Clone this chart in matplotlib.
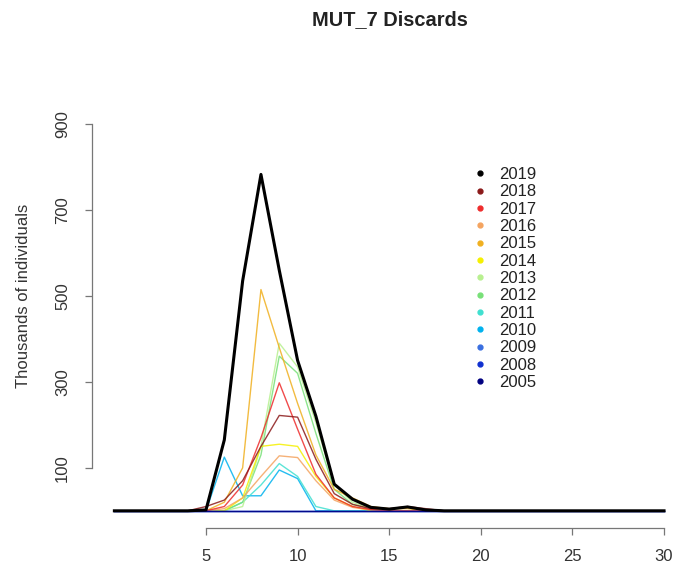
import matplotlib
matplotlib.use("Agg")
import matplotlib.pyplot as plt
from matplotlib.lines import Line2D

plt.rcParams['font.family'] = ['Liberation Sans', 'DejaVu Sans']

# length classes and discards (thousands of individuals) per year
lengths = list(range(31))
years = ['2019', '2018', '2017', '2016', '2015', '2014', '2013',
         '2012', '2011', '2010', '2009', '2008', '2005']
colours = ['#000000', '#8B1A1A', '#EE2C2C', '#F4A460', '#F0B020', '#F5F000',
           '#B8F090', '#78E078', '#40E0D0', '#00B2EE', '#3A6FE0', '#1030D0', '#000080']

d2019 = [0, 0, 0, 0, 0, 2, 165, 535, 783, 560, 350, 220, 62, 27, 8, 4, 9, 2, 0, 0, 0, 0, 0, 0, 0, 0, 0, 0, 0, 0, 0]
d2018 = [0, 0, 0, 0, 0, 10, 25, 70, 150, 222, 218, 120, 40, 15, 5, 5, 10, 5, 0, 0, 0, 0, 0, 0, 0, 0, 0, 0, 0, 0, 0]
d2017 = [0, 0, 0, 0, 0, 0, 10, 60, 170, 298, 190, 85, 30, 10, 3, 0, 0, 0, 0, 0, 0, 0, 0, 0, 0, 0, 0, 0, 0, 0, 0]
d2016 = [0, 0, 0, 0, 0, 0, 5, 30, 80, 128, 124, 70, 25, 8, 2, 0, 0, 0, 0, 0, 0, 0, 0, 0, 0, 0, 0, 0, 0, 0, 0]
d2015 = [0, 0, 0, 0, 0, 0, 20, 100, 515, 380, 250, 130, 50, 30, 10, 5, 5, 0, 0, 0, 0, 0, 0, 0, 0, 0, 0, 0, 0, 0, 0]
d2014 = [0, 0, 0, 0, 0, 0, 0, 30, 150, 155, 150, 80, 30, 10, 0, 0, 0, 0, 0, 0, 0, 0, 0, 0, 0, 0, 0, 0, 0, 0, 0]
d2013 = [0, 0, 0, 0, 0, 0, 0, 10, 150, 390, 335, 205, 60, 20, 5, 0, 0, 0, 0, 0, 0, 0, 0, 0, 0, 0, 0, 0, 0, 0, 0]
d2012 = [0, 0, 0, 0, 0, 0, 0, 20, 130, 360, 320, 180, 50, 15, 5, 0, 0, 0, 0, 0, 0, 0, 0, 0, 0, 0, 0, 0, 0, 0, 0]
d2011 = [0, 0, 0, 0, 0, 0, 0, 20, 60, 110, 80, 10, 0, 0, 0, 0, 0, 0, 0, 0, 0, 0, 0, 0, 0, 0, 0, 0, 0, 0, 0]
d2010 = [0, 0, 0, 0, 0, 0, 125, 35, 35, 95, 75, 0, 0, 0, 0, 0, 0, 0, 0, 0, 0, 0, 0, 0, 0, 0, 0, 0, 0, 0, 0]
d2009 = [0, 0, 0, 0, 0, 0, 0, 0, 0, 0, 0, 0, 0, 0, 0, 0, 0, 0, 0, 0, 0, 0, 0, 0, 0, 0, 0, 0, 0, 0, 0]
d2008 = [0, 0, 0, 0, 0, 0, 0, 0, 0, 0, 0, 0, 0, 0, 0, 0, 0, 0, 0, 0, 0, 0, 0, 0, 0, 0, 0, 0, 0, 0, 0]
d2005 = [0, 0, 0, 0, 0, 0, 0, 0, 0, 0, 0, 0, 0, 0, 0, 0, 0, 0, 0, 0, 0, 0, 0, 0, 0, 0, 0, 0, 0, 0, 0]
series = [d2019, d2018, d2017, d2016, d2015, d2014, d2013, d2012, d2011, d2010, d2009, d2008, d2005]

xticks = [5, 10, 15, 20, 25, 30]
yticks = [100, 300, 500, 700, 900]

fig = plt.figure(figsize=(6.77, 5.68), dpi=100)
ax = fig.add_axes([92.4 / 677, 40 / 568, 593.6 / 677, 464 / 568])

# older years first, 2019 on top
order = [9, 8, 7, 6, 5, 4, 3, 2, 1, 10, 11, 12]
for i in order:
    ax.plot(lengths, series[i], color=colours[i], lw=1.0, alpha=0.85)
ax.plot(lengths, series[0], color=colours[0], lw=2.2)

ax.set_xlim(-1.2, 31.2)
ax.set_ylim(-40, 1040)

for s in ['top', 'right']:
    ax.spines[s].set_visible(False)
ax.spines['left'].set_bounds(100, 900)
ax.spines['bottom'].set_bounds(5, 30)
for s in ['left', 'bottom']:
    ax.spines[s].set_color('#777777')
    ax.spines[s].set_linewidth(0.9)

ax.set_xticks(xticks)
ax.set_yticks(yticks)
ax.tick_params(axis='both', colors='#777777', length=5, width=0.9, labelsize=12, labelcolor='#333333')
ax.tick_params(axis='x', pad=10)
ax.tick_params(axis='y', pad=11)
for lab in ax.get_yticklabels():
    lab.set_rotation(90)
    lab.set_va('center')

ax.set_ylabel('Thousands of individuals', fontsize=12, color='#333333')
ax.yaxis.set_label_coords(-0.103, 0.5)

fig.text(390 / 677, 1 - 20 / 568, 'MUT_7 Discards', ha='center', va='center',
         fontsize=14.4, fontweight='bold', color='#222222')

handles = [Line2D([], [], marker='o', ms=3.5, ls='none', color=c) for c in colours]
ax.legend(handles, years, loc='upper left', bbox_to_anchor=(472 / 677, 1 - 167 / 568),
          bbox_transform=fig.transFigure, frameon=False, fontsize=12, labelspacing=0.14,
          handlelength=1.0, handletextpad=0.6, borderpad=0, borderaxespad=0,
          labelcolor='#222222')

fig.savefig('out.png', dpi=100)
